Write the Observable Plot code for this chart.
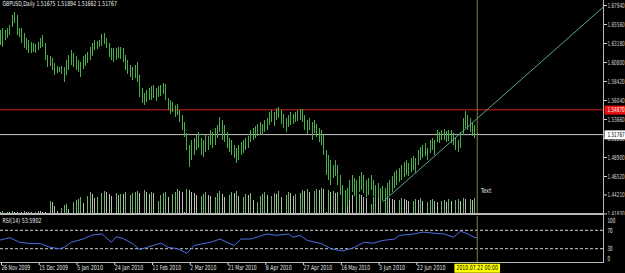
<!DOCTYPE html>
<html><head><meta charset="utf-8">
<script src="https://cdn.jsdelivr.net/npm/d3@7"></script>
<script src="https://cdn.jsdelivr.net/npm/@observablehq/plot@0.6"></script>
<style>
html,body{margin:0;padding:0;background:#000;}
#chart{position:relative;width:625px;height:273px;background:#000;overflow:hidden;}
#chart svg{position:absolute;left:0;}
.line{position:absolute;background:#b8b8b8;}
</style></head><body><div id="chart"></div>
<script>
// ---------- data ----------
const symbolTitle = "GBPUSD,Daily 1.51675 1.51894 1.51662 1.51767";
const rsiTitle = "RSI(14) 53.5902";

const highs = [
1.648,1.651,1.648,1.651,1.654,1.667,1.671,1.667,1.651,1.651,
1.644,1.638,1.636,1.633,1.632,1.631,1.633,1.638,1.642,1.632,
1.617,1.616,1.613,1.607,1.603,1.602,1.603,1.602,1.611,1.617,
1.623,1.619,1.616,1.611,1.608,1.616,1.618,1.621,1.627,1.632,
1.636,1.634,1.636,1.643,1.644,1.638,1.632,1.626,1.626,1.626,
1.627,1.627,1.626,1.617,1.611,1.604,1.602,1.604,1.608,1.592,
1.575,1.569,1.573,1.575,1.578,1.579,1.575,1.578,1.579,1.582,
1.580,1.563,1.560,1.558,1.554,1.555,1.548,1.542,1.533,1.519,
1.504,1.510,1.513,1.517,1.520,1.513,1.510,1.517,1.515,1.523,
1.520,1.525,1.529,1.539,1.535,1.529,1.520,1.513,1.510,1.504,
1.500,1.504,1.508,1.510,1.513,1.515,1.523,1.525,1.528,1.530,
1.533,1.530,1.535,1.538,1.545,1.548,1.545,1.550,1.552,1.548,
1.543,1.538,1.542,1.545,1.543,1.545,1.548,1.549,1.549,1.542,
1.535,1.538,1.533,1.535,1.530,1.525,1.523,1.517,1.498,1.492,
1.485,1.479,1.485,1.479,1.466,1.454,1.448,1.450,1.460,1.466,
1.463,1.460,1.465,1.470,1.466,1.460,1.463,1.466,1.460,1.454,
1.456,1.450,1.453,1.450,1.456,1.460,1.465,1.470,1.473,1.475,
1.479,1.483,1.485,1.482,1.488,1.490,1.488,1.498,1.502,1.504,
1.507,1.500,1.510,1.513,1.510,1.523,1.520,1.523,1.524,1.522,
1.523,1.523,1.519,1.513,1.510,1.520,1.538,1.547,1.542,1.538,
1.533,1.529,1.51894];

const lows = [
1.629,1.627,1.636,1.638,1.642,1.652,1.657,1.642,1.639,1.632,
1.626,1.623,1.619,1.619,1.621,1.619,1.623,1.626,1.627,1.611,
1.602,1.603,1.598,1.592,1.594,1.596,1.593,1.583,1.592,1.598,
1.604,1.602,1.598,1.596,1.589,1.599,1.603,1.607,1.611,1.616,
1.623,1.624,1.627,1.628,1.631,1.626,1.614,1.611,1.608,1.611,
1.613,1.612,1.608,1.598,1.593,1.589,1.585,1.588,1.583,1.564,
1.557,1.554,1.558,1.560,1.560,1.563,1.559,1.564,1.565,1.568,
1.560,1.548,1.543,1.545,1.539,1.542,1.533,1.523,1.514,1.498,
1.477,1.485,1.492,1.498,1.500,1.492,1.489,1.495,1.498,1.504,
1.500,1.504,1.513,1.520,1.510,1.508,1.500,1.495,1.492,1.488,
1.482,1.485,1.492,1.494,1.498,1.500,1.508,1.510,1.513,1.515,
1.518,1.517,1.520,1.523,1.529,1.533,1.528,1.535,1.538,1.530,
1.525,1.520,1.527,1.529,1.530,1.533,1.534,1.535,1.533,1.523,
1.518,1.523,1.510,1.519,1.514,1.508,1.504,1.492,1.466,1.460,
1.454,1.463,1.465,1.454,1.441,1.429,1.425,1.428,1.435,1.445,
1.440,1.438,1.445,1.448,1.444,1.439,1.441,1.448,1.440,1.435,
1.438,1.433,1.434,1.431,1.438,1.441,1.445,1.450,1.454,1.458,
1.460,1.464,1.466,1.465,1.470,1.473,1.469,1.479,1.485,1.488,
1.490,1.485,1.494,1.498,1.492,1.508,1.507,1.510,1.510,1.508,
1.509,1.507,1.504,1.498,1.495,1.500,1.517,1.525,1.523,1.520,
1.515,1.513,1.51662];

const volumes = [
2,3,1,2,2,3,2,2,1,2,
3,2,2,2,1,2,3,3,2,2,
1,13,12,8,3,1,6,9,10,5,
1,12,14,15,17,11,1,18,22,20,
16,17,1,21,23,22,20,18,1,21,
19,20,20,22,1,19,21,22,23,21,
1,24,22,20,22,21,1,13,19,21,
22,17,1,20,22,25,23,22,2,25,
24,22,21,19,1,18,20,22,19,18,
1,17,21,23,20,17,1,19,22,21,
23,18,1,17,20,19,21,14,1,12,
18,20,22,19,1,18,21,20,23,17,
1,19,22,21,18,20,1,21,24,23,
25,22,1,23,25,24,26,25,2,24,
22,23,21,22,1,23,24,22,21,19,
1,18,20,19,17,16,1,10,17,18,
16,17,1,15,17,16,15,14,1,14,
16,15,14,13,1,13,15,14,16,13,
1,12,14,15,13,12,1,13,14,12,
15,13,1,14,15,13,16,15,1,15,
14,16,1];

const rsiBars = [0,4,8,13,17,21,25,27,30,35,39,43,47,49,52,56,59,62,68,71,75,79,82,89,93,96,99,102,106,113,117,122,124,127,130,136,140,145,150,154,158,162,167,169,175,179,183,188,192,195,198,201,202];
const rsiValues = [49,54,44,41,41,33,30,33,44,51,60,62,44,56,52,41,28,33,42,33,30,20,37,44,51,44,37,51,51,62,59,62,55,59,48,41,30,25,33,44,42,48,51,59,62,66,64,62,55,68,62,54,53.59];

const dateTickBars = [0,16,32,48,64,80,96,112,128,144,160,176];
const dateTickLabels = ["26 Nov 2009","15 Dec 2009","5 Jan 2010","24 Jan 2010","11 Feb 2010","2 Mar 2010","21 Mar 2010","8 Apr 2010","27 Apr 2010","16 May 2010","3 Jun 2010","22 Jun 2010"];
const priceTicks = [1.6794,1.6556,1.6318,1.6080,1.5842,1.5604,1.5366,1.5128,1.4890,1.4652,1.4421,1.4183];
const rsiLevels = [70, 30];
const resistancePrice = 1.5487;
const bidPrice = 1.51767;
const trendBars = [162, 255.5];
const trendPrices = [1.4334, 1.6777];
const cursorBar = 202;
const cursorLabel = "2010.07.22 00:00";
const noteBar = 203.5, notePrice = 1.4476, noteLabel = "Text";

// ---------- derived tables ----------
const bars = highs.map((h, i) => ({i, high: h, low: lows[i], vol: volumes[i], rising: i > 0 && volumes[i] > volumes[i - 1]}));
const rsi = rsiBars.map((b, k) => ({bar: b, value: rsiValues[k]}));
const trend = [{x1: trendBars[0], y1: trendPrices[0], x2: trendBars[1], y2: trendPrices[1]}];
const tickLabel = new Map(dateTickBars.map((b, k) => [b, dateTickLabels[k]]));

const W = 625, MR = 22;
const xDomain = [0, 255.5];
const FONT = "DejaVu Sans, sans-serif";
const baseStyle = {background: "transparent", color: "#e2e2e2", fontSize: "7px", fontFamily: FONT};
const GREEN = "#48b048", OLIVE = "#80803c";

const chart = document.getElementById("chart");

// volumes (own scale, behind the price bars)
const volPlot = Plot.plot({
  width: W, height: 214, marginLeft: 0, marginRight: MR, marginTop: 0, marginBottom: 0,
  style: baseStyle,
  x: {domain: xDomain, axis: null, label: null},
  y: {domain: [0, 214], axis: null, label: null},
  marks: [
    Plot.ruleX(bars, {x: "i", y1: 0, y2: "vol", stroke: d => d.rising ? "#6cb46c" : "#b6c0ae", shapeRendering: "crispEdges"})
  ]
});
volPlot.style.top = "0px";
chart.appendChild(volPlot);

// price panel
const mainPlot = Plot.plot({
  width: W, height: 215, marginLeft: 0, marginRight: MR, marginTop: 0, marginBottom: 0,
  style: baseStyle,
  x: {domain: xDomain, axis: null, label: null},
  y: {domain: [1.41633, 1.68566], axis: null, label: null},
  marks: [
    Plot.ruleY([bidPrice], {stroke: "#c4c4c4"}),
    Plot.ruleY([resistancePrice], {stroke: "#d42020"}),
    Plot.ruleX(bars, {x: "i", y1: "low", y2: "high", stroke: GREEN, shapeRendering: "crispEdges"}),
    Plot.link(trend, {x1: "x1", y1: "y1", x2: "x2", y2: "y2", stroke: "#5aa58c"}),
    Plot.ruleX([cursorBar], {stroke: OLIVE}),
    Plot.text([noteLabel], {x: () => noteBar, y: () => notePrice, text: d => d, textAnchor: "start", lineAnchor: "middle", fill: "#e6e6e6"}),
    Plot.text([symbolTitle], {frameAnchor: "top-left", dx: 2, dy: 1, text: d => d, lineAnchor: "top", textAnchor: "start", fill: "#ececec"}),
    Plot.axisY({anchor: "right", label: null, ticks: priceTicks, tickFormat: d => d.toFixed(5), tickSize: 3, tickPadding: 1, color: "#d6d6d6", className: "right-labels"}),
    Plot.text([resistancePrice], {y: d => d, frameAnchor: "right", dx: 4, text: d => d.toFixed(5), textAnchor: "start", lineAnchor: "middle", fill: "#ffffff", className: "box-red"}),
    Plot.text([bidPrice], {y: d => d, frameAnchor: "right", dx: 4, text: d => d.toFixed(5), textAnchor: "start", lineAnchor: "middle", fill: "#000000", className: "box-white"})
  ]
});
mainPlot.style.top = "0px";
chart.appendChild(mainPlot);

// RSI panel + date axis
const rsiPlot = Plot.plot({
  width: W, height: 58, marginLeft: 0, marginRight: MR, marginTop: 1, marginBottom: 11,
  style: baseStyle,
  x: {domain: xDomain, axis: null, label: null},
  y: {domain: [0, 100], axis: null, label: null},
  marks: [
    Plot.ruleY(rsiLevels, {stroke: "#cfcfcf", strokeDasharray: "3,2"}),
    Plot.line(rsi, {x: "bar", y: "value", stroke: "#4d6fe0", strokeWidth: 1}),
    Plot.ruleX([cursorBar], {stroke: OLIVE}),
    Plot.text([rsiTitle], {frameAnchor: "top-left", dx: 2, dy: 2, text: d => d, lineAnchor: "top", textAnchor: "start", fill: "#ececec"}),
    Plot.text([100], {y: d => d, frameAnchor: "right", dx: 4, dy: 4, text: d => String(d), textAnchor: "start", lineAnchor: "middle", fill: "#e2e2e2"}),
    Plot.text(rsiLevels, {y: d => d, frameAnchor: "right", dx: 4, text: d => String(d), textAnchor: "start", lineAnchor: "middle", fill: "#e2e2e2"}),
    Plot.text([0], {y: d => d, frameAnchor: "right", dx: 4, dy: -4, text: d => String(d), textAnchor: "start", lineAnchor: "middle", fill: "#e2e2e2"}),
    Plot.axisX({anchor: "bottom", label: null, ticks: dateTickBars, tickFormat: d => tickLabel.get(d), tickSize: 3, tickPadding: 0, textAnchor: "start", dx: 1, color: "#e2e2e2"}),
    Plot.text([cursorBar], {x: d => d, frameAnchor: "bottom", dy: 5.5, text: () => cursorLabel, textAnchor: "middle", lineAnchor: "middle", fill: "#000000", className: "box-yellow"})
  ]
});
rsiPlot.style.top = "215px";
chart.appendChild(rsiPlot);

// panel borders
function line(l, t, w, h) { const d = document.createElement("div"); d.className = "line"; Object.assign(d.style, {left: l + "px", top: t + "px", width: w + "px", height: h + "px"}); chart.appendChild(d); }
line(0, 213, 603, 2);
line(0, 262, 603, 1);
line(603, 0, 1, 263);

// MT4-like condensed text
function squeeze(sel, charW) {
  sel.each(function () {
    const s = this.textContent;
    if (s && s.length) {
      this.setAttribute("textLength", (s.length * charW).toFixed(1));
      this.setAttribute("lengthAdjust", "spacingAndGlyphs");
    }
  });
}
squeeze(d3.select(mainPlot).selectAll("text"), 2.6);
squeeze(d3.select(rsiPlot).selectAll("text"), 2.6);
squeeze(d3.select(mainPlot).selectAll("g.right-labels text, g.box-red text, g.box-white text"), 2.45);

function boxes(svg, cls, fill, padL, fixedW) {
  d3.select(svg).selectAll("g." + cls + " text").each(function () {
    const b = this.getBBox();
    const r = document.createElementNS("http://www.w3.org/2000/svg", "rect");
    r.setAttribute("x", b.x - padL);
    r.setAttribute("y", b.y - 0.5);
    r.setAttribute("width", fixedW || (b.width + 2 * padL));
    r.setAttribute("height", b.height + 1);
    r.setAttribute("fill", fill);
    const tr = this.getAttribute("transform");
    if (tr) r.setAttribute("transform", tr);
    this.parentNode.insertBefore(r, this);
  });
}
boxes(mainPlot, "box-red", "#e81010", 3, 22);
boxes(mainPlot, "box-white", "#ffffff", 3, 22);
boxes(rsiPlot, "box-yellow", "#ffff00", 2, 0);
</script></body></html>
